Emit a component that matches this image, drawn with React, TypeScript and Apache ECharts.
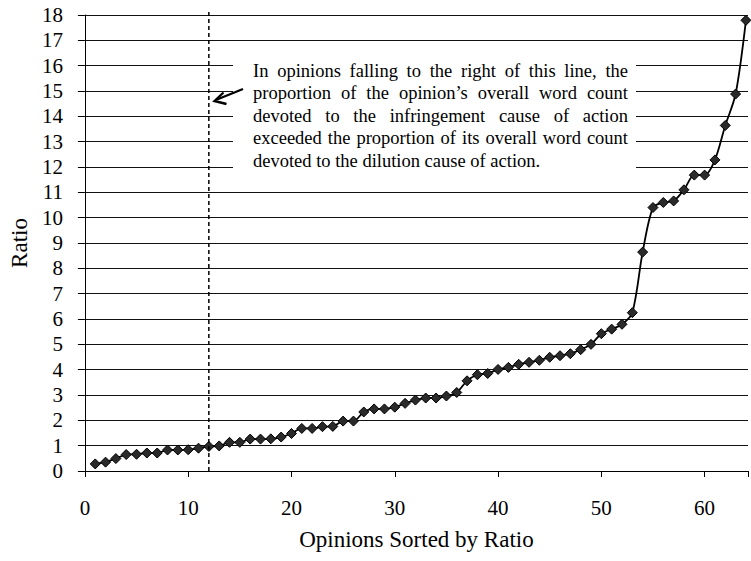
import React, { useEffect, useRef } from "react";
import * as echarts from "echarts";

// Sorted ratios for opinions 1..64
const ratios = [
  0.28, 0.35, 0.49, 0.65, 0.66, 0.71, 0.71, 0.83, 0.83, 0.84,
  0.9, 0.97, 0.99, 1.13, 1.13, 1.26, 1.26, 1.27, 1.34, 1.48,
  1.68, 1.68, 1.75, 1.76, 1.97, 1.97, 2.33, 2.45, 2.45, 2.52,
  2.67, 2.8, 2.88, 2.88, 2.96, 3.1, 3.56, 3.8, 3.85, 4.01,
  4.09, 4.21, 4.29, 4.37, 4.49, 4.55, 4.63, 4.79, 5.0, 5.42,
  5.6, 5.79, 6.25, 8.64, 10.4, 10.6, 10.66, 11.1, 11.68, 11.68,
  12.28, 13.64, 14.88, 17.79,
];
const thresholdOpinion = 12;
const noteLines = [
  "In opinions falling to the right of this line,  the",
  "proportion of the opinion\u2019s overall word count",
  "devoted to the infringement cause of action",
  "exceeded the proportion of its overall word count",
  "devoted to the dilution cause of action.",
];
const xAxisTitle = "Opinions Sorted by Ratio";
const yAxisTitle = "Ratio";

const FONT = "'Liberation Serif', 'Times New Roman', Times, serif";

export default function App() {
  const ref = useRef<HTMLDivElement>(null);
  useEffect(() => {
    if (!ref.current) return;
    const chart = echarts.init(ref.current, undefined, { renderer: "svg" });

    const noteSize = 18.5;
    const ctx = document.createElement("canvas").getContext("2d")!;
    ctx.font = `${noteSize}px 'Liberation Serif'`;
    const left = 253;
    const right = 628;
    const baselines = [76, 98.5, 121, 143.5, 166];
    const noteEls: any[] = [];
    noteLines.forEach((line, li) => {
      const y = baselines[li] - 5.5;
      const justify = li < noteLines.length - 1;
      if (!justify) {
        noteEls.push({
          type: "text", x: left, y, z: 10,
          style: { text: line, fontSize: noteSize, fontFamily: FONT, fill: "#000", verticalAlign: "middle", align: "left" },
        });
        return;
      }
      const words = line.split(/\s+/);
      const widths = words.map((w) => ctx.measureText(w).width);
      const total = widths.reduce((a, b) => a + b, 0);
      const gap = (right - left - total) / (words.length - 1);
      let x = left;
      words.forEach((w, i) => {
        noteEls.push({
          type: "text", x, y, z: 10,
          style: { text: w, fontSize: noteSize, fontFamily: FONT, fill: "#000", verticalAlign: "middle", align: "left" },
        });
        x += widths[i] + gap;
      });
    });

    const baseGraphic: any[] = [
      { type: "rect", z: 1, shape: { x: 233, y: 50, width: 403, height: 128 }, style: { fill: "#fff" } },
      ...noteEls,
      { type: "line", z: 10, shape: { x1: 243, y1: 89, x2: 217, y2: 99.5 }, style: { stroke: "#000", lineWidth: 2.4 } },
      { type: "polyline", z: 10, shape: { points: [[223.5, 92.5], [214.5, 101], [226.5, 104]] }, style: { stroke: "#000", lineWidth: 2.4, fill: "none" } },
    ];

    const option: any = {
      animation: false,
      backgroundColor: "#fff",
      grid: { left: 84, right: 0, top: 15, bottom: 90, containLabel: false },
      xAxis: {
        type: "value",
        min: 0,
        max: 64.2,
        interval: 10,
        name: xAxisTitle,
        nameLocation: "middle",
        nameGap: 57,
        nameTextStyle: { fontFamily: FONT, fontSize: 23, color: "#000" },
        axisLine: { show: true, lineStyle: { color: "#000", width: 1 } },
        axisTick: { show: true, length: 6, lineStyle: { color: "#000" } },
        axisLabel: {
          fontFamily: FONT, fontSize: 21, color: "#000", margin: 26,
          formatter: (v: number) => (v % 10 === 0 ? String(v) : ""),
        },
        splitLine: { show: false },
      },
      yAxis: {
        type: "value",
        min: 0,
        max: 18,
        interval: 1,
        name: yAxisTitle,
        nameLocation: "middle",
        nameGap: 51,
        nameTextStyle: { fontFamily: FONT, fontSize: 23, color: "#000" },
        axisLine: { show: true, lineStyle: { color: "#000", width: 1 } },
        axisTick: { show: true, length: 7, lineStyle: { color: "#000" } },
        axisLabel: { fontFamily: FONT, fontSize: 21, color: "#000", margin: 22 },
        splitLine: { show: true, lineStyle: { color: "#111", width: 1 } },
      },
      series: [
        {
          type: "line",
          data: ratios.map((v, i) => [i + 1, v]),
          smooth: 0.3,
          symbol: "diamond",
          symbolSize: 10,
          itemStyle: { color: "#2a2a2a", borderColor: "#000", borderWidth: 1 },
          lineStyle: { color: "#000", width: 1.8 },
          z: 3,
        },
      ],
      graphic: baseGraphic,
    };
    chart.setOption(option);
    const bottom = chart.convertToPixel({ gridIndex: 0 }, [thresholdOpinion, 0]) as number[];
    const top = chart.convertToPixel({ gridIndex: 0 }, [thresholdOpinion, 18]) as number[];
    chart.setOption({
      graphic: [
        ...baseGraphic,
        {
          type: "line", z: 5,
          shape: { x1: bottom[0], y1: bottom[1], x2: top[0], y2: top[1] - 4 },
          style: { stroke: "#000", lineWidth: 1.5, lineDash: [4, 3] },
        },
      ],
    });
    return () => chart.dispose();
  }, []);
  return <div ref={ref} style={{ position: "fixed", left: 0, top: 0, width: 751, height: 561 }} />;
}
